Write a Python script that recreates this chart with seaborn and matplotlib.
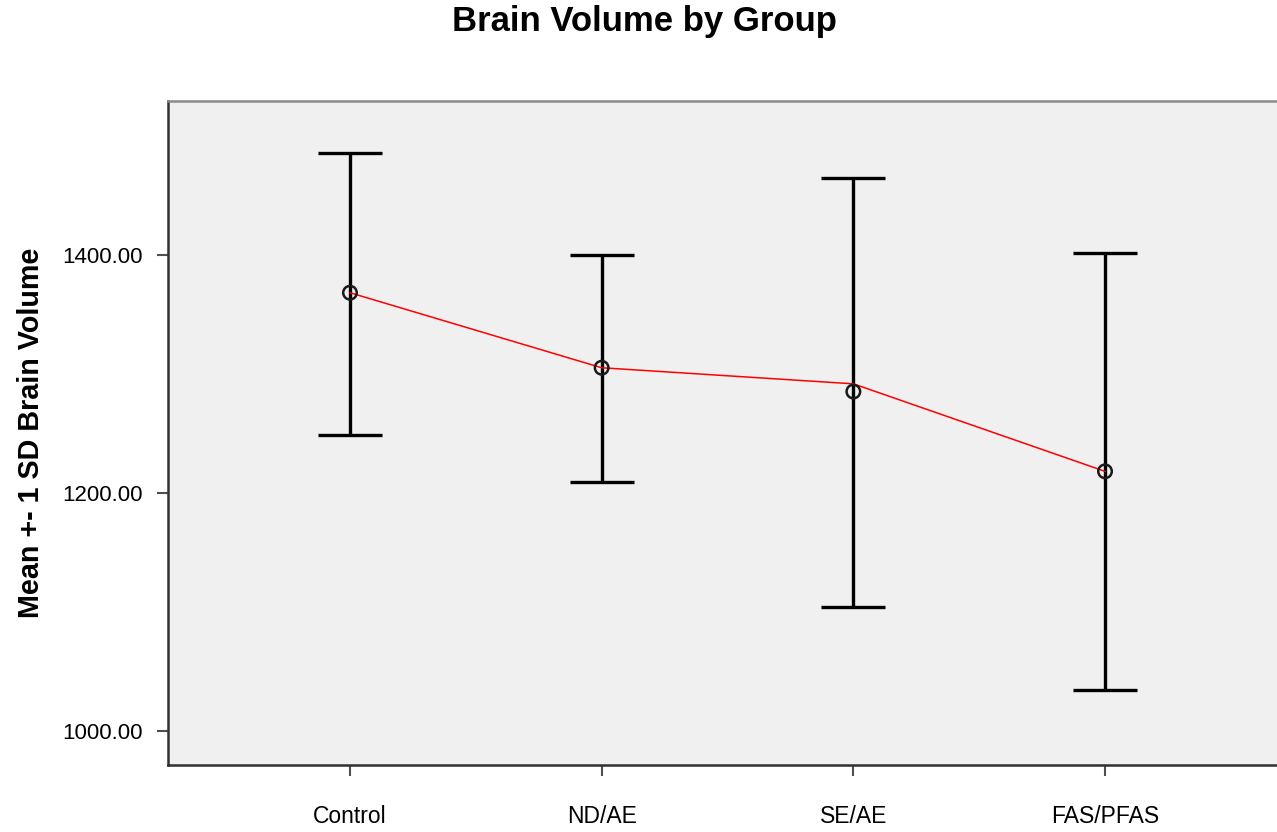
import numpy as np
import pandas as pd
import matplotlib
matplotlib.use("Agg")
import matplotlib.pyplot as plt
import seaborn as sns

groups = ["Control", "ND/AE", "SE/AE", "FAS/PFAS"]
means = [1368, 1305, 1285, 1218]
line_means = [1368, 1305, 1291.5, 1218]
upper = [1485.7, 1400, 1464.7, 1401.7]
lower = [1248.7, 1209, 1104.2, 1034.5]
yticks = [1000, 1200, 1400]

sns.set_theme(style="white")
plt.rcParams["font.family"] = ["Liberation Sans", "DejaVu Sans"]
plt.rcParams["text.color"] = "black"
plt.rcParams["axes.labelcolor"] = "black"
plt.rcParams["xtick.color"] = "black"
plt.rcParams["ytick.color"] = "black"

fig = plt.figure(figsize=(12.77, 8.32), dpi=100)
ax = fig.add_axes([168 / 1277, 1 - 765 / 832, 1119 / 1277, (765 - 101) / 832])
ax.set_facecolor("#f0f0f0")

x = np.arange(len(groups))
df = pd.DataFrame({"x": x, "mean": means, "line": line_means,
                   "upper": upper, "lower": lower})

yerr = [df["mean"] - df["lower"], df["upper"] - df["mean"]]
ax.errorbar(df["x"], df["mean"], yerr=yerr, fmt="none", ecolor="black",
            elinewidth=2.4, capsize=23, capthick=2.4, zorder=2)
sns.lineplot(data=df, x="x", y="line", color="#ff0000", linewidth=1.1,
             sort=False, ax=ax, zorder=3)
sns.scatterplot(data=df, x="x", y="mean", ax=ax, marker="o", s=95,
                facecolors="none", edgecolors="#1a1a1a", linewidths=1.8,
                zorder=4)

ax.set_xlim(-0.723, 3.723)
ax.set_ylim(971.4, 1529)
ax.set_xticks(x)
ax.set_xticklabels(groups)
ax.set_yticks(yticks)
ax.set_yticklabels([f"{v:.2f}" for v in yticks])
ax.tick_params(axis="x", length=8, width=1.5, color="#505050", pad=21,
               labelsize=16.5, bottom=True, labelcolor="black")
ax.tick_params(axis="y", length=8, width=1.5, color="#505050", pad=10,
               labelsize=16, left=True, labelcolor="black")
ax.set_xlabel("")
ax.set_ylabel("Mean +- 1 SD Brain Volume", fontsize=20.7, fontweight="bold",
              color="black")
ax.yaxis.set_label_coords(-0.110, 0.5)

for side in ["left", "bottom"]:
    ax.spines[side].set_color("#303030")
    ax.spines[side].set_linewidth(1.8)
ax.spines["top"].set_color("#8a8a8a")
ax.spines["top"].set_linewidth(1.8)
ax.spines["right"].set_visible(False)

fig.text(644 / 1277, 1 - 22 / 832, "Brain Volume by Group", ha="center",
         va="center", fontsize=25, fontweight="bold", color="black")

fig.savefig("out.png", dpi=100)
